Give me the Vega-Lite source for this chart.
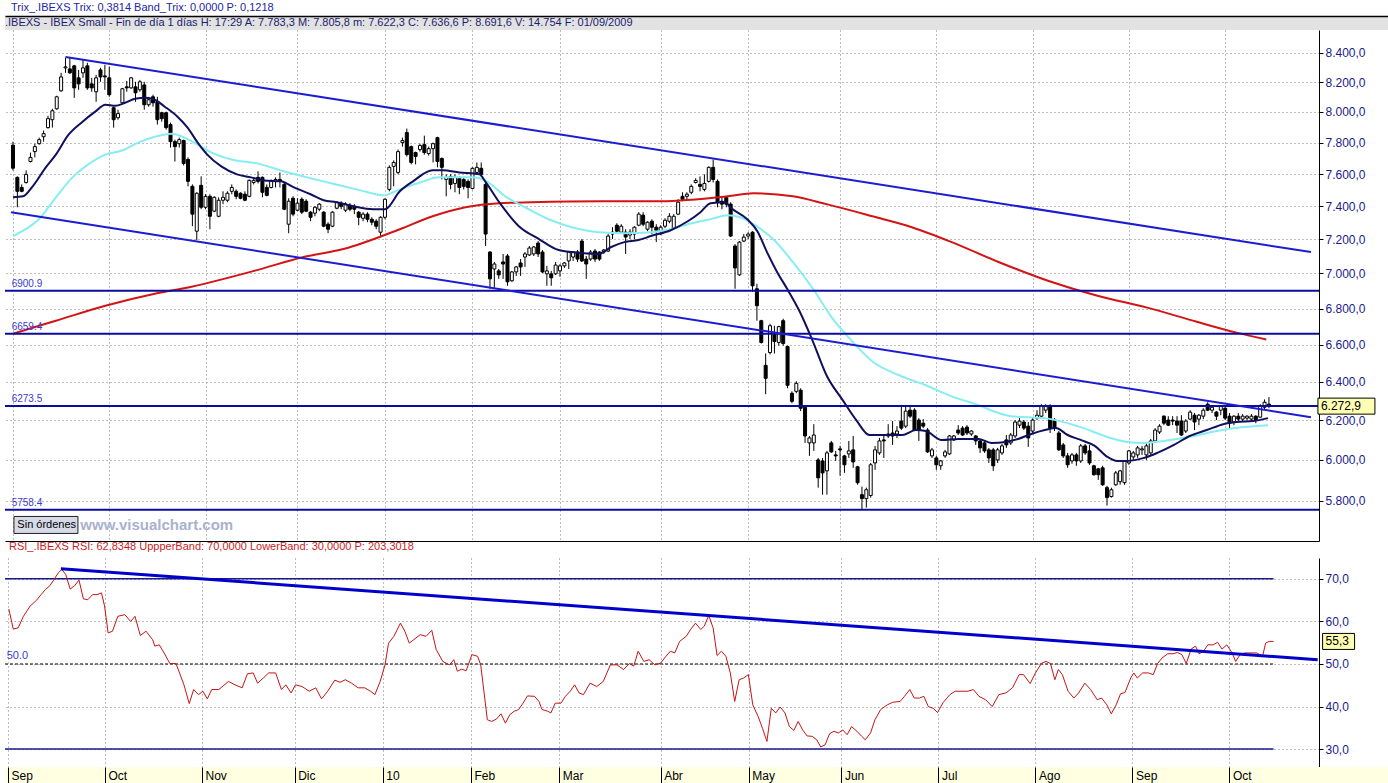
{
"$schema": "https://vega.github.io/schema/vega-lite/v6.json",
"padding": {"left": 4, "top": 2, "right": 0, "bottom": 0},
"background": "white",
"spacing": 0,
"config": {
  "locale": {"number": {"decimal": ",", "thousands": ".", "grouping": [3], "currency": ["", " €"]}},
  "view": {"stroke": null},
  "font": "Liberation Sans",
  "axis": {"labelFont": "Liberation Sans", "labelFontSize": 12, "gridColor": "#7a7a7a", "gridDash": [1, 3], "gridWidth": 1, "domainColor": "#000000", "tickColor": "#000000"},
  "title": {"font": "Liberation Sans", "subtitleFont": "Liberation Sans", "fontWeight": "normal", "anchor": "start", "frame": "group"}
},
"datasets": {
  "candles": [
{"t":0,"o":7783.3,"h":7805.8,"l":7622.3,"c":7636.6},{"t":1,"o":7579,"h":7585,"l":7394,"c":7492},{"t":2,"o":7516,"h":7535,"l":7486,"c":7492},{"t":3,"o":7547,"h":7623,"l":7540,"c":7598},{"t":4,"o":7679,"h":7736,"l":7673,"c":7705},{"t":5,"o":7742,"h":7793,"l":7705,"c":7774},{"t":6,"o":7793,"h":7832,"l":7787,"c":7819},{"t":7,"o":7838,"h":7878,"l":7806,"c":7858},{"t":8,"o":7897,"h":7975,"l":7891,"c":7956},{"t":9,"o":7949,"h":8021,"l":7897,"c":8008},
{"t":10,"o":8021,"h":8108,"l":8015,"c":8101},{"t":11,"o":8141,"h":8263,"l":8135,"c":8235},{"t":12,"o":8297,"h":8366,"l":8263,"c":8304},{"t":13,"o":8290,"h":8366,"l":8256,"c":8263},{"t":14,"o":8311,"h":8318,"l":8094,"c":8161},{"t":15,"o":8229,"h":8283,"l":8148,"c":8188},{"t":16,"o":8263,"h":8352,"l":8229,"c":8297},{"t":17,"o":8311,"h":8332,"l":8148,"c":8161},{"t":18,"o":8188,"h":8229,"l":8135,"c":8161},{"t":19,"o":8135,"h":8249,"l":8068,"c":8229},
{"t":20,"o":8283,"h":8297,"l":8202,"c":8235},{"t":21,"o":8242,"h":8318,"l":8148,"c":8235},{"t":22,"o":8229,"h":8304,"l":8101,"c":8115},{"t":23,"o":8028,"h":8035,"l":7897,"c":7949},{"t":24,"o":7962,"h":8015,"l":7949,"c":7989},{"t":25,"o":8061,"h":8161,"l":8055,"c":8155},{"t":26,"o":8168,"h":8208,"l":8135,"c":8161},{"t":27,"o":8161,"h":8235,"l":8155,"c":8229},{"t":28,"o":8168,"h":8202,"l":8068,"c":8128},{"t":29,"o":8148,"h":8215,"l":8135,"c":8202},
{"t":30,"o":8181,"h":8202,"l":8015,"c":8048},{"t":31,"o":8048,"h":8101,"l":8035,"c":8081},{"t":32,"o":8101,"h":8115,"l":8035,"c":8061},{"t":33,"o":8068,"h":8101,"l":7917,"c":7949},{"t":34,"o":7995,"h":8002,"l":7936,"c":7956},{"t":35,"o":7995,"h":8002,"l":7884,"c":7897},{"t":36,"o":7917,"h":7930,"l":7768,"c":7806},{"t":37,"o":7806,"h":7819,"l":7679,"c":7774},{"t":38,"o":7793,"h":7832,"l":7768,"c":7819},{"t":39,"o":7813,"h":7819,"l":7654,"c":7667},
{"t":40,"o":7692,"h":7705,"l":7523,"c":7554},{"t":41,"o":7523,"h":7535,"l":7279,"c":7352},{"t":42,"o":7249,"h":7486,"l":7196,"c":7480},{"t":43,"o":7529,"h":7585,"l":7382,"c":7394},{"t":44,"o":7394,"h":7474,"l":7382,"c":7461},{"t":45,"o":7461,"h":7474,"l":7261,"c":7339},{"t":46,"o":7370,"h":7461,"l":7364,"c":7455},{"t":47,"o":7339,"h":7455,"l":7333,"c":7437},{"t":48,"o":7437,"h":7492,"l":7413,"c":7455},{"t":49,"o":7437,"h":7492,"l":7425,"c":7480},
{"t":50,"o":7492,"h":7535,"l":7474,"c":7516},{"t":51,"o":7492,"h":7504,"l":7443,"c":7461},{"t":52,"o":7480,"h":7486,"l":7443,"c":7449},{"t":53,"o":7474,"h":7492,"l":7431,"c":7437},{"t":54,"o":7461,"h":7566,"l":7455,"c":7560},{"t":55,"o":7547,"h":7579,"l":7535,"c":7560},{"t":56,"o":7579,"h":7617,"l":7541,"c":7554},{"t":57,"o":7579,"h":7585,"l":7455,"c":7486},{"t":58,"o":7516,"h":7535,"l":7461,"c":7467},{"t":59,"o":7516,"h":7566,"l":7510,"c":7554},
{"t":60,"o":7554,"h":7579,"l":7516,"c":7566},{"t":61,"o":7566,"h":7610,"l":7516,"c":7554},{"t":62,"o":7535,"h":7547,"l":7376,"c":7382},{"t":63,"o":7291,"h":7449,"l":7237,"c":7431},{"t":64,"o":7449,"h":7461,"l":7339,"c":7352},{"t":65,"o":7376,"h":7449,"l":7370,"c":7419},{"t":66,"o":7443,"h":7455,"l":7352,"c":7364},{"t":67,"o":7431,"h":7443,"l":7364,"c":7370},{"t":68,"o":7364,"h":7370,"l":7309,"c":7333},{"t":69,"o":7358,"h":7400,"l":7339,"c":7394},
{"t":70,"o":7382,"h":7419,"l":7370,"c":7413},{"t":71,"o":7364,"h":7370,"l":7273,"c":7279},{"t":72,"o":7291,"h":7303,"l":7237,"c":7261},{"t":73,"o":7279,"h":7370,"l":7273,"c":7364},{"t":74,"o":7388,"h":7431,"l":7382,"c":7425},{"t":75,"o":7419,"h":7431,"l":7382,"c":7400},{"t":76,"o":7376,"h":7425,"l":7364,"c":7413},{"t":77,"o":7406,"h":7419,"l":7370,"c":7382},{"t":78,"o":7400,"h":7413,"l":7352,"c":7382},{"t":79,"o":7364,"h":7370,"l":7285,"c":7333},
{"t":80,"o":7327,"h":7364,"l":7309,"c":7352},{"t":81,"o":7352,"h":7364,"l":7303,"c":7321},{"t":82,"o":7321,"h":7333,"l":7285,"c":7303},{"t":83,"o":7309,"h":7321,"l":7261,"c":7279},{"t":84,"o":7243,"h":7339,"l":7220,"c":7333},{"t":85,"o":7333,"h":7449,"l":7321,"c":7443},{"t":86,"o":7504,"h":7654,"l":7492,"c":7642},{"t":87,"o":7648,"h":7686,"l":7523,"c":7673},{"t":88,"o":7610,"h":7755,"l":7598,"c":7742},{"t":89,"o":7800,"h":7832,"l":7774,"c":7813},
{"t":90,"o":7865,"h":7891,"l":7711,"c":7723},{"t":91,"o":7774,"h":7781,"l":7661,"c":7673},{"t":92,"o":7736,"h":7742,"l":7661,"c":7711},{"t":93,"o":7755,"h":7793,"l":7742,"c":7781},{"t":94,"o":7787,"h":7845,"l":7723,"c":7736},{"t":95,"o":7730,"h":7774,"l":7717,"c":7761},{"t":96,"o":7761,"h":7800,"l":7673,"c":7793},{"t":97,"o":7832,"h":7838,"l":7642,"c":7679},{"t":98,"o":7698,"h":7705,"l":7566,"c":7642},{"t":99,"o":7566,"h":7598,"l":7461,"c":7579},
{"t":100,"o":7585,"h":7598,"l":7504,"c":7535},{"t":101,"o":7541,"h":7598,"l":7486,"c":7579},{"t":102,"o":7573,"h":7585,"l":7474,"c":7516},{"t":103,"o":7566,"h":7579,"l":7504,"c":7523},{"t":104,"o":7554,"h":7566,"l":7449,"c":7516},{"t":105,"o":7510,"h":7642,"l":7504,"c":7636},{"t":106,"o":7610,"h":7673,"l":7598,"c":7642},{"t":107,"o":7636,"h":7673,"l":7585,"c":7598},{"t":108,"o":7535,"h":7547,"l":7161,"c":7232},{"t":109,"o":7125,"h":7131,"l":6912,"c":6969},
{"t":110,"o":7026,"h":7067,"l":6912,"c":7055},{"t":111,"o":7015,"h":7026,"l":6969,"c":6992},{"t":112,"o":7067,"h":7114,"l":6969,"c":7055},{"t":113,"o":7102,"h":7114,"l":6929,"c":6952},{"t":114,"o":6958,"h":7015,"l":6952,"c":7009},{"t":115,"o":7009,"h":7044,"l":6986,"c":7038},{"t":116,"o":7061,"h":7084,"l":6986,"c":7038},{"t":117,"o":7096,"h":7125,"l":7038,"c":7114},{"t":118,"o":7108,"h":7161,"l":7102,"c":7149},{"t":119,"o":7114,"h":7161,"l":7102,"c":7155},
{"t":120,"o":7178,"h":7190,"l":7096,"c":7114},{"t":121,"o":7125,"h":7137,"l":7003,"c":7009},{"t":122,"o":6998,"h":7044,"l":6929,"c":7015},{"t":123,"o":6998,"h":7015,"l":6929,"c":6975},{"t":124,"o":6998,"h":7067,"l":6992,"c":7049},{"t":125,"o":7015,"h":7055,"l":6981,"c":7044},{"t":126,"o":7044,"h":7067,"l":7032,"c":7061},{"t":127,"o":7073,"h":7131,"l":7026,"c":7125},{"t":128,"o":7096,"h":7131,"l":7073,"c":7125},{"t":129,"o":7125,"h":7137,"l":7067,"c":7084},
{"t":130,"o":7190,"h":7202,"l":7067,"c":7073},{"t":131,"o":7084,"h":7102,"l":6969,"c":7055},{"t":132,"o":7084,"h":7137,"l":7073,"c":7125},{"t":133,"o":7131,"h":7143,"l":7067,"c":7084},{"t":134,"o":7125,"h":7131,"l":7073,"c":7084},{"t":135,"o":7125,"h":7143,"l":7114,"c":7137},{"t":136,"o":7131,"h":7232,"l":7125,"c":7220},{"t":137,"o":7232,"h":7273,"l":7202,"c":7243},{"t":138,"o":7285,"h":7297,"l":7232,"c":7249},{"t":139,"o":7243,"h":7291,"l":7232,"c":7279},
{"t":140,"o":7243,"h":7261,"l":7114,"c":7214},{"t":141,"o":7226,"h":7261,"l":7202,"c":7243},{"t":142,"o":7232,"h":7279,"l":7202,"c":7273},{"t":143,"o":7285,"h":7364,"l":7279,"c":7352},{"t":144,"o":7346,"h":7364,"l":7279,"c":7291},{"t":145,"o":7261,"h":7309,"l":7249,"c":7303},{"t":146,"o":7309,"h":7321,"l":7232,"c":7273},{"t":147,"o":7273,"h":7291,"l":7184,"c":7255},{"t":148,"o":7249,"h":7285,"l":7226,"c":7273},{"t":149,"o":7279,"h":7327,"l":7267,"c":7315},
{"t":150,"o":7309,"h":7358,"l":7297,"c":7339},{"t":151,"o":7267,"h":7352,"l":7261,"c":7339},{"t":152,"o":7352,"h":7443,"l":7346,"c":7425},{"t":153,"o":7461,"h":7486,"l":7431,"c":7443},{"t":154,"o":7461,"h":7486,"l":7443,"c":7474},{"t":155,"o":7486,"h":7535,"l":7474,"c":7523},{"t":156,"o":7547,"h":7573,"l":7541,"c":7560},{"t":157,"o":7535,"h":7585,"l":7492,"c":7523},{"t":158,"o":7504,"h":7598,"l":7492,"c":7541},{"t":159,"o":7554,"h":7648,"l":7547,"c":7642},
{"t":160,"o":7642,"h":7692,"l":7547,"c":7566},{"t":161,"o":7554,"h":7566,"l":7394,"c":7425},{"t":162,"o":7431,"h":7461,"l":7382,"c":7413},{"t":163,"o":7455,"h":7461,"l":7394,"c":7413},{"t":164,"o":7413,"h":7425,"l":7214,"c":7220},{"t":165,"o":7161,"h":7172,"l":6912,"c":7032},{"t":166,"o":6992,"h":7190,"l":6986,"c":7184},{"t":167,"o":7190,"h":7232,"l":7184,"c":7214},{"t":168,"o":7220,"h":7243,"l":7202,"c":7232},{"t":169,"o":7243,"h":7249,"l":6895,"c":6929},
{"t":170,"o":6912,"h":6941,"l":6732,"c":6816},{"t":171,"o":6732,"h":6737,"l":6606,"c":6612},{"t":172,"o":6488,"h":6552,"l":6335,"c":6419},{"t":173,"o":6557,"h":6715,"l":6547,"c":6704},{"t":174,"o":6660,"h":6704,"l":6552,"c":6617},{"t":175,"o":6612,"h":6704,"l":6595,"c":6699},{"t":176,"o":6732,"h":6743,"l":6595,"c":6606},{"t":177,"o":6590,"h":6595,"l":6366,"c":6382},{"t":178,"o":6340,"h":6350,"l":6288,"c":6298},{"t":179,"o":6350,"h":6403,"l":6340,"c":6392},
{"t":180,"o":6356,"h":6366,"l":6247,"c":6262},{"t":181,"o":6267,"h":6272,"l":6085,"c":6120},{"t":182,"o":6085,"h":6120,"l":6020,"c":6110},{"t":183,"o":6085,"h":6180,"l":6045,"c":6125},{"t":184,"o":6000,"h":6010,"l":5864,"c":5912},{"t":185,"o":5995,"h":6010,"l":5830,"c":5936},{"t":186,"o":5946,"h":6045,"l":5830,"c":6035},{"t":187,"o":6085,"h":6095,"l":6035,"c":6040},{"t":188,"o":6025,"h":6045,"l":5995,"c":6020},{"t":189,"o":6055,"h":6070,"l":5922,"c":6050},
{"t":190,"o":6020,"h":6025,"l":5936,"c":5976},{"t":191,"o":6030,"h":6095,"l":6010,"c":6045},{"t":192,"o":6050,"h":6120,"l":5961,"c":5990},{"t":193,"o":5966,"h":5971,"l":5878,"c":5888},{"t":194,"o":5830,"h":5869,"l":5758,"c":5811},{"t":195,"o":5811,"h":5864,"l":5768,"c":5854},{"t":196,"o":5826,"h":5985,"l":5816,"c":5976},{"t":197,"o":5985,"h":6070,"l":5951,"c":6050},{"t":198,"o":6035,"h":6110,"l":6025,"c":6095},{"t":199,"o":6100,"h":6120,"l":6010,"c":6095},
{"t":200,"o":6130,"h":6180,"l":6110,"c":6120},{"t":201,"o":6135,"h":6196,"l":6075,"c":6120},{"t":202,"o":6130,"h":6170,"l":6110,"c":6145},{"t":203,"o":6196,"h":6278,"l":6150,"c":6160},{"t":204,"o":6170,"h":6278,"l":6160,"c":6247},{"t":205,"o":6252,"h":6278,"l":6211,"c":6221},{"t":206,"o":6252,"h":6262,"l":6145,"c":6150},{"t":207,"o":6201,"h":6211,"l":6095,"c":6150},{"t":208,"o":6185,"h":6206,"l":6160,"c":6170},{"t":209,"o":6150,"h":6160,"l":6035,"c":6040},
{"t":210,"o":6020,"h":6060,"l":6010,"c":6050},{"t":211,"o":6010,"h":6020,"l":5951,"c":5976},{"t":212,"o":5971,"h":6000,"l":5951,"c":5995},{"t":213,"o":6020,"h":6050,"l":6010,"c":6040},{"t":214,"o":6030,"h":6125,"l":6025,"c":6120},{"t":215,"o":6100,"h":6125,"l":6095,"c":6120},{"t":216,"o":6150,"h":6175,"l":6125,"c":6135},{"t":217,"o":6160,"h":6170,"l":6120,"c":6125},{"t":218,"o":6165,"h":6175,"l":6125,"c":6135},{"t":219,"o":6130,"h":6150,"l":6120,"c":6145},
{"t":220,"o":6120,"h":6125,"l":6075,"c":6095},{"t":221,"o":6095,"h":6100,"l":6035,"c":6060},{"t":222,"o":6085,"h":6095,"l":6035,"c":6045},{"t":223,"o":6050,"h":6060,"l":5985,"c":6010},{"t":224,"o":6050,"h":6060,"l":5946,"c":5971},{"t":225,"o":6000,"h":6060,"l":5985,"c":6050},{"t":226,"o":6035,"h":6080,"l":6025,"c":6070},{"t":227,"o":6100,"h":6125,"l":6060,"c":6075},{"t":228,"o":6085,"h":6135,"l":6075,"c":6125},{"t":229,"o":6120,"h":6201,"l":6110,"c":6191},
{"t":230,"o":6175,"h":6211,"l":6160,"c":6196},{"t":231,"o":6191,"h":6201,"l":6150,"c":6160},{"t":232,"o":6170,"h":6191,"l":6065,"c":6110},{"t":233,"o":6145,"h":6211,"l":6135,"c":6201},{"t":234,"o":6211,"h":6252,"l":6201,"c":6226},{"t":235,"o":6221,"h":6283,"l":6216,"c":6272},{"t":236,"o":6252,"h":6283,"l":6237,"c":6272},{"t":237,"o":6272,"h":6283,"l":6135,"c":6160},{"t":238,"o":6201,"h":6211,"l":6145,"c":6160},{"t":239,"o":6135,"h":6145,"l":6045,"c":6050},
{"t":240,"o":6075,"h":6085,"l":6010,"c":6020},{"t":241,"o":6020,"h":6035,"l":5961,"c":5976},{"t":242,"o":5995,"h":6035,"l":5981,"c":6025},{"t":243,"o":6025,"h":6035,"l":5971,"c":5995},{"t":244,"o":5995,"h":6080,"l":5985,"c":6070},{"t":245,"o":6070,"h":6080,"l":6025,"c":6035},{"t":246,"o":6045,"h":6075,"l":5976,"c":5985},{"t":247,"o":5971,"h":5976,"l":5922,"c":5927},{"t":248,"o":5956,"h":5961,"l":5902,"c":5927},{"t":249,"o":5961,"h":5971,"l":5873,"c":5878},
{"t":250,"o":5864,"h":5873,"l":5778,"c":5816},{"t":251,"o":5821,"h":5864,"l":5816,"c":5854},{"t":252,"o":5878,"h":5946,"l":5873,"c":5936},{"t":253,"o":5893,"h":5951,"l":5878,"c":5946},{"t":254,"o":5888,"h":6000,"l":5878,"c":5995},{"t":255,"o":5985,"h":6050,"l":5976,"c":6045},{"t":256,"o":6015,"h":6045,"l":6000,"c":6035},{"t":257,"o":6025,"h":6070,"l":6010,"c":6060},{"t":258,"o":6050,"h":6070,"l":6025,"c":6055},{"t":259,"o":6025,"h":6085,"l":6000,"c":6070},
{"t":260,"o":6035,"h":6105,"l":6025,"c":6095},{"t":261,"o":6095,"h":6160,"l":6085,"c":6150},{"t":262,"o":6140,"h":6180,"l":6130,"c":6170},{"t":263,"o":6221,"h":6226,"l":6175,"c":6185},{"t":264,"o":6201,"h":6221,"l":6170,"c":6175},{"t":265,"o":6201,"h":6221,"l":6175,"c":6196},{"t":266,"o":6196,"h":6221,"l":6135,"c":6175},{"t":267,"o":6196,"h":6226,"l":6120,"c":6125},{"t":268,"o":6145,"h":6206,"l":6135,"c":6196},{"t":269,"o":6206,"h":6252,"l":6201,"c":6242},
{"t":270,"o":6226,"h":6237,"l":6150,"c":6191},{"t":271,"o":6206,"h":6232,"l":6175,"c":6226},{"t":272,"o":6221,"h":6262,"l":6206,"c":6252},{"t":273,"o":6283,"h":6293,"l":6247,"c":6252},{"t":274,"o":6252,"h":6278,"l":6237,"c":6267},{"t":275,"o":6242,"h":6247,"l":6201,"c":6221},{"t":276,"o":6252,"h":6278,"l":6226,"c":6272},{"t":277,"o":6262,"h":6272,"l":6201,"c":6211},{"t":278,"o":6221,"h":6237,"l":6160,"c":6185},{"t":279,"o":6191,"h":6226,"l":6175,"c":6221},
{"t":280,"o":6221,"h":6237,"l":6196,"c":6206},{"t":281,"o":6206,"h":6232,"l":6191,"c":6221},{"t":282,"o":6211,"h":6226,"l":6201,"c":6221},{"t":283,"o":6206,"h":6232,"l":6191,"c":6221},{"t":284,"o":6221,"h":6226,"l":6185,"c":6201},{"t":285,"o":6216,"h":6283,"l":6211,"c":6272},{"t":286,"o":6267,"h":6308,"l":6257,"c":6293},{"t":287,"o":6283,"h":6320,"l":6262,"c":6272.9}
  ],
  "maNavy": [
{"t":0,"v":7455},{"t":2.3,"v":7461},{"t":4.5,"v":7523},{"t":7.5,"v":7642},{"t":9.8,"v":7723},{"t":12.7,"v":7851},{"t":15.9,"v":7936},{"t":18.8,"v":8002},{"t":21.1,"v":8048},{"t":23.4,"v":8041},{"t":25.6,"v":8061},{"t":27.9,"v":8088},{"t":30.2,"v":8094},{"t":32.4,"v":8081},{"t":34.7,"v":8035},{"t":37.6,"v":7969},{"t":39.9,"v":7897},{"t":42.2,"v":7800},{"t":44.4,"v":7723},{"t":47.6,"v":7648},{"t":51.2,"v":7598},{"t":54.4,"v":7579},{"t":57.4,"v":7560},{"t":61.2,"v":7554},{"t":64.2,"v":7516},{"t":68,"v":7474},{"t":71,"v":7437},{"t":73.9,"v":7425},{"t":77.8,"v":7400},{"t":82.3,"v":7382},{"t":85,"v":7382},{"t":88.4,"v":7492},{"t":91.4,"v":7554},{"t":95.9,"v":7623},{"t":98.2,"v":7623},{"t":102,"v":7610},{"t":106.6,"v":7598},{"t":107.9,"v":7554},{"t":111.1,"v":7425},{"t":115.6,"v":7279},{"t":120.2,"v":7202},{"t":124.7,"v":7137},{"t":129.9,"v":7120},{"t":133.8,"v":7114},{"t":136.7,"v":7155},{"t":139.7,"v":7184},{"t":142.9,"v":7196},{"t":145.8,"v":7220},{"t":150.3,"v":7255},{"t":154.2,"v":7309},{"t":157.1,"v":7364},{"t":159.4,"v":7419},{"t":162.8,"v":7425},{"t":163.9,"v":7394},{"t":167.8,"v":7321},{"t":170.1,"v":7249},{"t":172.3,"v":7125},{"t":174.6,"v":7009},{"t":176.9,"v":6912},{"t":179.8,"v":6782},{"t":182.8,"v":6617},{"t":185.9,"v":6435},{"t":189.6,"v":6304},{"t":192.7,"v":6201},{"t":195.7,"v":6125},{"t":199.5,"v":6125},{"t":203.2,"v":6125},{"t":206.3,"v":6150},{"t":208.6,"v":6145},{"t":212.2,"v":6100},{"t":216.1,"v":6105},{"t":220.6,"v":6105},{"t":223.6,"v":6085},{"t":226.8,"v":6090},{"t":229.7,"v":6105},{"t":232.7,"v":6130},{"t":235.8,"v":6150},{"t":238.3,"v":6160},{"t":241,"v":6125},{"t":244,"v":6100},{"t":247.2,"v":6070},{"t":250.1,"v":6015},{"t":252.4,"v":5995},{"t":254.6,"v":5995},{"t":258.5,"v":6010},{"t":261.5,"v":6035},{"t":265.3,"v":6075},{"t":268.9,"v":6120},{"t":272.8,"v":6150},{"t":276.6,"v":6180},{"t":279.6,"v":6191},{"t":283.4,"v":6196},{"t":286.8,"v":6211}
  ],
  "maCyan": [
{"t":0,"v":7220},{"t":2.9,"v":7261},{"t":5.9,"v":7321},{"t":9.8,"v":7455},{"t":13.6,"v":7579},{"t":17.2,"v":7661},{"t":21.1,"v":7723},{"t":24.9,"v":7749},{"t":28.6,"v":7800},{"t":32.4,"v":7838},{"t":36.3,"v":7858},{"t":39.2,"v":7832},{"t":42.2,"v":7787},{"t":45.4,"v":7736},{"t":49.9,"v":7692},{"t":55.8,"v":7667},{"t":61.9,"v":7617},{"t":66.4,"v":7585},{"t":71,"v":7554},{"t":75.5,"v":7523},{"t":79.4,"v":7498},{"t":84.6,"v":7467},{"t":88.4,"v":7504},{"t":93,"v":7547},{"t":97.5,"v":7579},{"t":105,"v":7579},{"t":107.9,"v":7560},{"t":112.5,"v":7461},{"t":117,"v":7394},{"t":122.4,"v":7321},{"t":127.7,"v":7273},{"t":133.8,"v":7243},{"t":139.7,"v":7237},{"t":145.8,"v":7243},{"t":150.3,"v":7261},{"t":154.2,"v":7291},{"t":159.4,"v":7321},{"t":163.3,"v":7346},{"t":166.2,"v":7333},{"t":169.2,"v":7291},{"t":173.7,"v":7202},{"t":178.2,"v":7067},{"t":182.8,"v":6912},{"t":187.3,"v":6743},{"t":191.8,"v":6617},{"t":196.4,"v":6509},{"t":202.5,"v":6435},{"t":208.6,"v":6382},{"t":214.5,"v":6324},{"t":220.6,"v":6278},{"t":225.2,"v":6237},{"t":228,"v":6221},{"t":235.8,"v":6211},{"t":243.3,"v":6170},{"t":250.8,"v":6110},{"t":254.6,"v":6090},{"t":258.5,"v":6085},{"t":263,"v":6095},{"t":269.8,"v":6120},{"t":275.1,"v":6145},{"t":281.2,"v":6165},{"t":286.8,"v":6175}
  ],
  "maRed": [
{"t":0,"v":6660},{"t":9.8,"v":6732},{"t":21.1,"v":6816},{"t":32.4,"v":6884},{"t":40.8,"v":6924},{"t":55.1,"v":7015},{"t":66.4,"v":7096},{"t":75.5,"v":7143},{"t":88.4,"v":7261},{"t":95.9,"v":7339},{"t":103.4,"v":7394},{"t":111.1,"v":7419},{"t":118.6,"v":7425},{"t":134.5,"v":7431},{"t":148.1,"v":7431},{"t":163.3,"v":7461},{"t":169.2,"v":7480},{"t":178.2,"v":7461},{"t":185.9,"v":7413},{"t":196.4,"v":7339},{"t":205.4,"v":7273},{"t":214.5,"v":7184},{"t":225.2,"v":7067},{"t":236.5,"v":6958},{"t":247.8,"v":6872},{"t":259.2,"v":6805},{"t":270.5,"v":6726},{"t":279.6,"v":6666},{"t":286.4,"v":6628}
  ],
  "levels": [
{"level":6900.9,"label":"6900.9"},{"level":6659.4,"label":"6659.4"},{"level":6273.5,"label":"6273.5"},{"level":5758.4,"label":"5758.4"}
  ],
  "channel": [
{"line":"upper","t":12,"v":8372},{"line":"upper","t":296.6,"v":7125},{"line":"lower","t":-0.45,"v":7364},{"line":"lower","t":296.6,"v":6216}
  ],
  "rsi": [
{"t":0.2,"v":62.9},{"t":1.2,"v":58.2},{"t":2.3,"v":58.5},{"t":3.5,"v":61.2},{"t":5,"v":63.6},{"t":6.5,"v":65},{"t":7.5,"v":66.3},{"t":8.5,"v":67.5},{"t":9.5,"v":68.4},{"t":10.4,"v":69.8},{"t":11.4,"v":71.4},{"t":12.2,"v":72.2},{"t":13.1,"v":71},{"t":14.1,"v":67.6},{"t":15.1,"v":68.4},{"t":16.1,"v":69.7},{"t":17.1,"v":65.3},{"t":18.1,"v":65.1},{"t":19.2,"v":66.3},{"t":20.2,"v":66.3},{"t":21.2,"v":66.7},{"t":21.9,"v":63.6},{"t":22.7,"v":57.3},{"t":23.7,"v":57.7},{"t":24.9,"v":61.2},{"t":26.5,"v":61.6},{"t":27.8,"v":60},{"t":28.8,"v":61.2},{"t":30,"v":56.7},{"t":31.3,"v":57.7},{"t":32.8,"v":55.7},{"t":33.3,"v":54.2},{"t":34.3,"v":54.5},{"t":35.4,"v":52.6},{"t":36.7,"v":50.1},{"t":38.1,"v":50.1},{"t":38.9,"v":47.9},{"t":39.9,"v":45.1},{"t":41.1,"v":40.7},{"t":42.1,"v":44},{"t":43.2,"v":42.8},{"t":44.2,"v":43.6},{"t":45.2,"v":41.8},{"t":46.2,"v":44},{"t":47.8,"v":44},{"t":50,"v":45.9},{"t":51.5,"v":45.1},{"t":53.1,"v":44.4},{"t":54.3,"v":47.7},{"t":55.6,"v":47.9},{"t":56.6,"v":45.5},{"t":57.9,"v":46.7},{"t":59.1,"v":47.9},{"t":60.7,"v":47.9},{"t":62,"v":44},{"t":63,"v":45.1},{"t":64.2,"v":43.2},{"t":65.2,"v":45.1},{"t":66.7,"v":44.7},{"t":68.3,"v":43.6},{"t":69.8,"v":44.4},{"t":71.1,"v":41.8},{"t":72.5,"v":43.6},{"t":74.1,"v":46.2},{"t":75.3,"v":45.7},{"t":76.5,"v":46.3},{"t":77.9,"v":45.5},{"t":79.4,"v":44.4},{"t":80.9,"v":44.4},{"t":82.2,"v":43.6},{"t":83.2,"v":42.8},{"t":84.4,"v":45.9},{"t":85.5,"v":49.8},{"t":86.3,"v":54.9},{"t":87.5,"v":56.5},{"t":89,"v":59.6},{"t":90,"v":57.7},{"t":91,"v":54.9},{"t":92.5,"v":56.1},{"t":93.5,"v":56.9},{"t":94.8,"v":56.5},{"t":96.1,"v":57.9},{"t":97.1,"v":53.4},{"t":98.6,"v":50.6},{"t":100.1,"v":49.8},{"t":101.1,"v":51},{"t":101.9,"v":48.3},{"t":102.9,"v":48.8},{"t":103.9,"v":48.4},{"t":105.2,"v":52.2},{"t":106.5,"v":51.8},{"t":107.2,"v":49.8},{"t":107.7,"v":45.5},{"t":108.7,"v":36.9},{"t":109.7,"v":36.5},{"t":110.8,"v":37.1},{"t":111.8,"v":38.3},{"t":112.8,"v":36.1},{"t":113.8,"v":38.1},{"t":114.8,"v":38.9},{"t":115.8,"v":39.3},{"t":116.8,"v":40.8},{"t":117.8,"v":42.5},{"t":119.4,"v":42.4},{"t":120.4,"v":41.2},{"t":121.1,"v":39.3},{"t":122.4,"v":38.9},{"t":123.1,"v":38.5},{"t":124.1,"v":40.8},{"t":125.4,"v":40.8},{"t":126.4,"v":42.4},{"t":127.5,"v":43.6},{"t":128.5,"v":45.1},{"t":129.5,"v":43.2},{"t":130.5,"v":42.8},{"t":132,"v":45.5},{"t":133.5,"v":44.7},{"t":135,"v":45.9},{"t":136.6,"v":49.8},{"t":138.1,"v":49.8},{"t":139.6,"v":48.7},{"t":140.9,"v":50.1},{"t":141.9,"v":49.5},{"t":142.9,"v":53},{"t":144.2,"v":50.6},{"t":145.4,"v":51},{"t":146.7,"v":49.8},{"t":148,"v":50.2},{"t":149.2,"v":51.8},{"t":150.2,"v":53},{"t":151.2,"v":52.6},{"t":152.3,"v":55.3},{"t":153.8,"v":56.5},{"t":154.8,"v":58.1},
{"t":155.9,"v":59.6},{"t":157.1,"v":58.1},{"t":157.9,"v":58.9},{"t":158.9,"v":61.4},{"t":159.9,"v":58.5},{"t":160.8,"v":52},{"t":161.8,"v":53},{"t":162.8,"v":51.8},{"t":163.8,"v":47.9},{"t":164.8,"v":41.2},{"t":165.8,"v":46.3},{"t":166.8,"v":46.7},{"t":167.9,"v":47.5},{"t":168.9,"v":40.4},{"t":170.1,"v":37.7},{"t":171.1,"v":34.9},{"t":172.1,"v":31.8},{"t":173.1,"v":39.6},{"t":174.1,"v":38.5},{"t":175.1,"v":39.9},{"t":176.2,"v":38.5},{"t":177.2,"v":35.3},{"t":178.2,"v":34.4},{"t":179.2,"v":36.5},{"t":180.2,"v":34.5},{"t":181.2,"v":33.1},{"t":182.4,"v":33},{"t":183.4,"v":32.2},{"t":184.3,"v":30.5},{"t":185.3,"v":31},{"t":186.3,"v":33.6},{"t":187.3,"v":34.2},{"t":188.3,"v":33.8},{"t":189.3,"v":34.5},{"t":190.3,"v":33.4},{"t":191.3,"v":35.3},{"t":192.5,"v":34.2},{"t":193.6,"v":33},{"t":194.4,"v":32.2},{"t":195.6,"v":33.8},{"t":196.6,"v":36.9},{"t":197.9,"v":39.3},{"t":199.4,"v":40.4},{"t":200.6,"v":41},{"t":202.3,"v":41.2},{"t":203.3,"v":42.4},{"t":204.5,"v":44},{"t":205.5,"v":42},{"t":206.7,"v":42},{"t":207.7,"v":42.4},{"t":208.7,"v":40},{"t":209.8,"v":39.6},{"t":210.8,"v":38.6},{"t":212.1,"v":41},{"t":213.6,"v":42.8},{"t":214.8,"v":43.6},{"t":216.1,"v":43.6},{"t":217.7,"v":43.6},{"t":218.9,"v":44},{"t":220.2,"v":42.4},{"t":221.7,"v":41.6},{"t":223.2,"v":40},{"t":224.7,"v":42.8},{"t":226.3,"v":43.2},{"t":227.8,"v":44.4},{"t":229.3,"v":47.5},{"t":230.3,"v":47.5},{"t":231.8,"v":45.4},{"t":233,"v":47.9},{"t":234.4,"v":50.2},{"t":235.4,"v":50.6},{"t":236.4,"v":50.1},{"t":237.4,"v":46.3},{"t":238.2,"v":48.7},{"t":239.1,"v":47.5},{"t":240.4,"v":43.6},{"t":241.7,"v":42},{"t":242.8,"v":43.2},{"t":244.2,"v":45.5},{"t":245.5,"v":44},{"t":247,"v":41.6},{"t":248,"v":42},{"t":249.2,"v":40.4},{"t":250.2,"v":38.3},{"t":251.3,"v":40.4},{"t":252.3,"v":43},{"t":253.3,"v":43.3},{"t":254.6,"v":46.7},{"t":255.3,"v":47.9},{"t":256.1,"v":46.7},{"t":257.3,"v":47.9},{"t":258.6,"v":47.9},{"t":259.7,"v":47.5},{"t":260.7,"v":50.1},{"t":261.7,"v":51.4},{"t":263,"v":52.4},{"t":264.2,"v":52.4},{"t":265.2,"v":52.7},{"t":266.2,"v":52.2},{"t":267.2,"v":50.1},{"t":268.3,"v":53.5},{"t":269.3,"v":54.2},{"t":270.1,"v":52.4},{"t":271.1,"v":53},{"t":272.1,"v":54.5},{"t":273.3,"v":54.5},{"t":274.3,"v":55.1},{"t":275.3,"v":53.5},{"t":276.4,"v":54.5},{"t":277.6,"v":52.6},{"t":278.4,"v":50.6},{"t":279.4,"v":52.2},{"t":280.4,"v":52.6},{"t":281.9,"v":52.6},{"t":283.2,"v":52.6},{"t":284.5,"v":51.8},{"t":285.2,"v":54.9},{"t":286,"v":55.3},{"t":287,"v":55.3}
  ],
  "rsiTrend": [{"t":12,"v":72.4},{"t":297,"v":51.0}],
  "bands": [{"v":70},{"v":30}]
},
"vconcat": [
{
  "width": 1384, "height": 14,
  "view": {"fill": "#e2e2e2", "stroke": null},
  "title": {"text": "Trix_.IBEXS  Trix: 0,3814  Band_Trix: 0,0000  P: 0,1218", "dx": 6, "fontSize": 11, "color": "#2424a8", "offset": 3},
  "data": {"values": [{}]},
  "mark": {"type": "text", "align": "left", "baseline": "middle", "fontSize": 11, "color": "#1c1c70"},
  "encoding": {
    "x": {"datum": 0, "type": "quantitative", "scale": {"domain": [0, 1], "nice": false},
          "axis": {"orient": "top", "domain": true, "domainColor": "#000000", "domainWidth": 1.5, "labels": false, "ticks": false, "grid": false, "title": null}},
    "y": {"datum": 0.5, "type": "quantitative", "scale": {"domain": [0, 1], "nice": false}, "axis": null},
    "text": {"value": ".IBEXS - IBEX Small - Fin de día 1 días   H: 17:29  A: 7.783,3  M: 7.805,8  m: 7.622,3  C: 7.636,6  P: 8.691,6  V: 14.754  F: 01/09/2009"}}
},
{
  "width": 1314, "height": 511,
  "layer": [
    {"data": {"name": "candles"}, "mark": {"type": "rule", "color": "#000000", "strokeWidth": 1},
     "encoding": {
       "x": {"field": "t", "type": "quantitative", "scale": {"domain": [-0.68, 297.3], "nice": false, "zero": false},
             "axis": {"values": [0,22,44,65,85,105,125,148,168,189,211,233,255,277], "labels": false, "ticks": false, "domain": true, "grid": true, "title": null}},
       "y": {"field": "l", "type": "quantitative", "scale": {"type": "log", "domain": [5611, 8561], "nice": false},
             "axis": {"orient": "right", "values": [5800,6000,6200,6400,6600,6800,7000,7200,7400,7600,7800,8000,8200,8400], "format": ",.1f", "grid": true, "tickSize": 4, "labelPadding": 2, "labelColor": "#1a1a8c", "title": null}},
       "y2": {"field": "h"}}},
    {"data": {"name": "candles"}, "mark": {"type": "bar", "width": 3, "stroke": "#000000", "strokeWidth": 1},
     "encoding": {
       "x": {"field": "t", "type": "quantitative", "title": null},
       "y": {"field": "o", "type": "quantitative", "title": null},
       "y2": {"field": "c"},
       "fill": {"condition": {"test": "datum.c < datum.o", "value": "#000000"}, "value": "#ffffff"}}},
    {"data": {"name": "maRed"}, "mark": {"type": "line", "color": "#d41414", "strokeWidth": 2, "interpolate": "monotone"},
     "encoding": {"x": {"field": "t", "type": "quantitative", "title": null}, "y": {"field": "v", "type": "quantitative", "title": null}}},
    {"data": {"name": "maCyan"}, "mark": {"type": "line", "color": "#86eef2", "strokeWidth": 2, "interpolate": "monotone"},
     "encoding": {"x": {"field": "t", "type": "quantitative", "title": null}, "y": {"field": "v", "type": "quantitative", "title": null}}},
    {"data": {"name": "maNavy"}, "mark": {"type": "line", "color": "#10105e", "strokeWidth": 2, "interpolate": "monotone"},
     "encoding": {"x": {"field": "t", "type": "quantitative", "title": null}, "y": {"field": "v", "type": "quantitative", "title": null}}},
    {"data": {"name": "levels"}, "mark": {"type": "rule", "color": "#0c0c9c", "strokeWidth": 2},
     "encoding": {"y": {"field": "level", "type": "quantitative", "title": null}}},
    {"data": {"name": "channel"}, "mark": {"type": "line", "color": "#1c1cd0", "strokeWidth": 2},
     "encoding": {"x": {"field": "t", "type": "quantitative", "title": null}, "y": {"field": "v", "type": "quantitative", "title": null}, "detail": {"field": "line"}}},
    {"data": {"name": "levels"}, "mark": {"type": "text", "align": "left", "baseline": "bottom", "dy": -2, "fontSize": 10, "color": "#3a3ad0"},
     "encoding": {"x": {"datum": -0.3, "type": "quantitative", "title": null}, "y": {"field": "level", "type": "quantitative", "title": null}, "text": {"field": "label"}}},
    {"data": {"values": [{}]}, "mark": {"type": "text", "align": "left", "baseline": "middle", "fontSize": 15, "fontWeight": "bold", "color": "#a9b1cf"},
     "encoding": {"x": {"datum": 15.4, "type": "quantitative", "title": null}, "y": {"datum": 5686, "type": "quantitative", "title": null}, "text": {"value": "www.visualchart.com"}}},
    {"data": {"values": [{}]}, "mark": {"type": "point", "filled": true, "shape": "M-0.34,-0.85L6.06,-0.85L6.06,0.85L-0.34,0.85Z", "size": 400, "fill": "#d6dae6", "stroke": "#202020", "strokeWidth": 1, "opacity": 1},
     "encoding": {"x": {"datum": 1.0, "type": "quantitative", "title": null}, "y": {"datum": 5686, "type": "quantitative", "title": null}}},
    {"data": {"values": [{}]}, "mark": {"type": "text", "align": "left", "baseline": "middle", "fontSize": 11, "color": "#000000"},
     "encoding": {"x": {"datum": 1.0, "type": "quantitative", "title": null}, "y": {"datum": 5686, "type": "quantitative", "title": null}, "text": {"value": "Sin órdenes"}}},
    {"data": {"values": [{}]}, "mark": {"type": "point", "filled": true, "shape": "M4.9,-0.8L10.6,-0.8L10.6,0.8L4.9,0.8Z", "size": 400, "fill": "#ffffb4", "stroke": "#000000", "strokeWidth": 1, "opacity": 1},
     "encoding": {"x": {"datum": 287, "type": "quantitative", "title": null}, "y": {"datum": 6272.9, "type": "quantitative", "title": null}}},
    {"data": {"values": [{}]}, "mark": {"type": "text", "align": "left", "baseline": "middle", "dx": 52, "fontSize": 12, "color": "#000000"},
     "encoding": {"x": {"datum": 287, "type": "quantitative", "title": null}, "y": {"datum": 6272.9, "type": "quantitative", "title": null}, "text": {"value": "6.272,9"}}}
  ]
},
{
  "width": 1314, "height": 209,
  "title": {"text": "RSI_.IBEXS  RSI: 62,8348  UppperBand: 70,0000  LowerBand: 30,0000  P: 203,3018", "dx": 4, "fontSize": 11, "color": "#c81e1e", "offset": 6},
  "layer": [
    {"data": {"name": "bands"}, "mark": {"type": "rule", "color": "#1a1a8c", "strokeWidth": 1.5},
     "encoding": {"x": {"datum": -0.68, "type": "quantitative", "title": null}, "x2": {"datum": 287}, "y": {"field": "v", "type": "quantitative", "title": null}}},
    {"data": {"values": [{}]}, "mark": {"type": "rule", "color": "#000000", "strokeWidth": 1, "strokeDash": [3, 2]},
     "encoding": {"x": {"datum": -0.68, "type": "quantitative", "title": null}, "x2": {"datum": 287}, "y": {"datum": 50, "type": "quantitative", "title": null}}},
    {"data": {"name": "rsi"}, "mark": {"type": "line", "color": "#c41414", "strokeWidth": 1},
     "encoding": {
       "x": {"field": "t", "type": "quantitative", "scale": {"domain": [-0.68, 297.3], "nice": false, "zero": false},
             "axis": {"values": [0,22,44,65,85,105,125,148,168,189,211,233,255,277], "labels": false, "ticks": false, "grid": true, "domain": true, "title": null}},
       "y": {"field": "v", "type": "quantitative", "scale": {"domain": [25.8, 74.9], "nice": false, "zero": false},
             "axis": {"orient": "right", "values": [30,40,50,60,70], "format": ".1f", "grid": true, "tickSize": 4, "labelPadding": 2, "labelColor": "#1a1a8c", "title": null}}}},
    {"data": {"name": "rsiTrend"}, "mark": {"type": "line", "color": "#0000cc", "strokeWidth": 3},
     "encoding": {"x": {"field": "t", "type": "quantitative", "title": null}, "y": {"field": "v", "type": "quantitative", "title": null}}},
    {"data": {"values": [{}]}, "mark": {"type": "text", "align": "left", "baseline": "bottom", "dy": -3, "fontSize": 11, "color": "#3a3ad0"},
     "encoding": {"x": {"datum": -0.3, "type": "quantitative", "title": null}, "y": {"datum": 50, "type": "quantitative", "title": null}, "text": {"value": "50.0"}}},
    {"data": {"values": [{}]}, "mark": {"type": "point", "filled": true, "shape": "M4.9,-0.8L8.1,-0.8L8.1,0.8L4.9,0.8Z", "size": 400, "fill": "#ffffb4", "stroke": "#000000", "strokeWidth": 1, "opacity": 1},
     "encoding": {"x": {"datum": 287, "type": "quantitative", "title": null}, "y": {"datum": 55.3, "type": "quantitative", "title": null}}},
    {"data": {"values": [{}]}, "mark": {"type": "text", "align": "left", "baseline": "middle", "dx": 52, "fontSize": 12, "color": "#000000"},
     "encoding": {"x": {"datum": 287, "type": "quantitative", "title": null}, "y": {"datum": 55.3, "type": "quantitative", "title": null}, "text": {"value": "55,3"}}}
  ]
},
{
  "width": 1384, "height": 16,
  "view": {"fill": "#ffffe1", "stroke": null},
  "data": {"values": [{}]},
  "mark": {"type": "point", "opacity": 0},
  "encoding": {
    "x": {"datum": 0, "type": "quantitative", "scale": {"domain": [-0.68, 313.17], "nice": false, "zero": false},
          "axis": {"orient": "top", "values": [0,22,44,65,85,105,125,148,168,189,211,233,255,277],
                   "labelExpr": "['Sep','Oct','Nov','Dic','10','Feb','Mar','Abr','May','Jun','Jul','Ago','Sep','Oct'][indexof([0,22,44,65,85,105,125,148,168,189,211,233,255,277], datum.value)]",
                   "labelAlign": "left", "labelBaseline": "top", "labelOffset": 3, "labelPadding": -3, "ticks": false, "tickSize": 0, "domain": false,
                   "grid": true, "gridColor": "#000000", "gridDash": [], "gridWidth": 1,
                   "labelColor": "#000000", "labelFontSize": 12, "labelFlush": false, "labelOverlap": false, "labelBound": false, "title": null}}
  }
}
]
}
